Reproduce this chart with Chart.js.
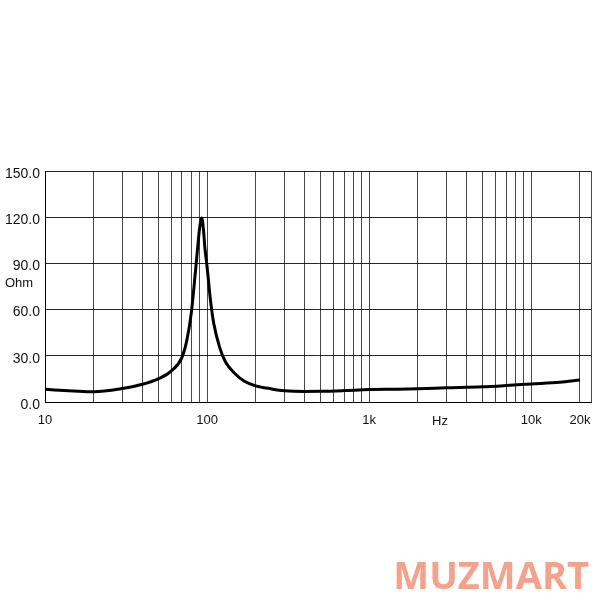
<!DOCTYPE html>
<html>
<head>
<meta charset="utf-8">
<script src="https://cdn.jsdelivr.net/npm/chart.js@4/dist/chart.umd.min.js"></script>
<style>
  html, body { margin: 0; padding: 0; background: #fff; }
  #wrap { width: 600px; height: 600px; }
</style>
</head>
<body>
<div id="wrap"><canvas id="myChart" width="600" height="600"></canvas></div>
<script>
// impedance curve
const freqs = [10, 15, 20, 30, 40, 50, 60, 70, 75, 80, 85, 88, 90, 92.7, 95, 97, 100, 105, 110, 120, 130, 150, 170, 200, 250, 300, 400, 500, 700, 1000, 1500, 2000, 3000, 5000, 7000, 10000, 15000, 20000];
const ohms = [8.2, 7.2, 6.7, 8.8, 11.5, 15, 20, 29, 40, 58, 86, 103, 113, 119.5, 112, 100, 88, 66, 51, 35, 26, 18, 13.5, 10.5, 8.5, 7.3, 6.8, 6.9, 7.4, 8.1, 8.3, 8.6, 9.2, 9.9, 10.7, 11.7, 12.8, 14.3];

// grid lines on the frequency axis and the labelled ones
const xGrid = [10, 20, 30, 40, 50, 60, 70, 80, 90, 100, 200, 300, 400, 500, 600, 700, 800, 900, 1000, 2000, 3000, 4000, 5000, 6000, 7000, 8000, 9000, 10000, 20000, 23400];
const xLabels = { 10: '10', 100: '100', 1000: '1k', 10000: '10k', 20000: '20k' };
const yTicks = [0, 30, 60, 90, 120, 150];

const fontFam = '"Liberation Sans", Arial, sans-serif';

const textPlugin = {
    id: 'extraText',
    afterDraw(chart) {
    const ctx = chart.ctx;
    ctx.save();
    ctx.fillStyle = '#111';
    ctx.font = '13px ' + fontFam;
    ctx.textBaseline = 'middle';
    ctx.textAlign = 'left';
    ctx.fillText('Ohm', 5, 283); // unità asse y
    ctx.textAlign = 'center';
    ctx.fillText('Hz', 440, 421); // unità asse x
    // watermark
    ctx.fillStyle = '#f4a28c';
    ctx.font = 'bold 38px "Open Sans", "Noto Sans", sans-serif';
    ctx.textAlign = 'right';
    ctx.textBaseline = 'alphabetic';
    ctx.fillText('MUZMART', 589, 589);
    ctx.restore();
    }
};

const ctx = document.getElementById('myChart').getContext('2d');
const myChart = new Chart(ctx, {
    type: 'line',
    data: {
    datasets: [{
        data: freqs.map((f, i) => ({ x: f, y: ohms[i] })),
        borderColor: '#000',
        borderWidth: 3,
        pointRadius: 0,
        cubicInterpolationMode: 'monotone',
        fill: false
    }]
    },
    options: {
    responsive: false,
    animation: false,
    layout: { padding: { top: 171, right: 9, left: 0, bottom: 0 } },
    plugins: { legend: { display: false }, tooltip: { enabled: false } },
    scales: {
        x: {
        type: 'logarithmic',
        min: 10,
        max: 23400,
        afterBuildTicks: (scale) => { scale.ticks = xGrid.map(v => ({ value: v })); },
        afterFit: (scale) => {
            scale.height = 198;
            scale.paddingLeft = 0;
            scale.paddingRight = 0;
        },
        ticks: {
            autoSkip: false,
            maxRotation: 0,
            padding: 11,
            color: '#111',
            font: { family: fontFam, size: 13 },
            callback: (v) => xLabels[v] || ''
        },
        grid: { color: 'rgba(0,0,0,0.72)', lineWidth: 1, drawTicks: false },
        border: { color: '#000', width: 1 }
        },
        y: {
        min: 0,
        max: 150,
        afterBuildTicks: (scale) => { scale.ticks = yTicks.map(v => ({ value: v })); },
        afterFit: (scale) => {
            scale.width = 45;
            scale.paddingTop = 0;
            scale.paddingBottom = 0;
        },
        ticks: {
            padding: 5,
            labelOffset: 3,
            color: '#111',
            font: { family: fontFam, size: 14 },
            callback: (v) => v.toFixed(1)
        },
        grid: { color: 'rgba(0,0,0,0.85)', lineWidth: 1, drawTicks: false },
        border: { color: '#000', width: 1 }
        }
    }
    },
    plugins: [textPlugin]
});
</script>
</body>
</html>
